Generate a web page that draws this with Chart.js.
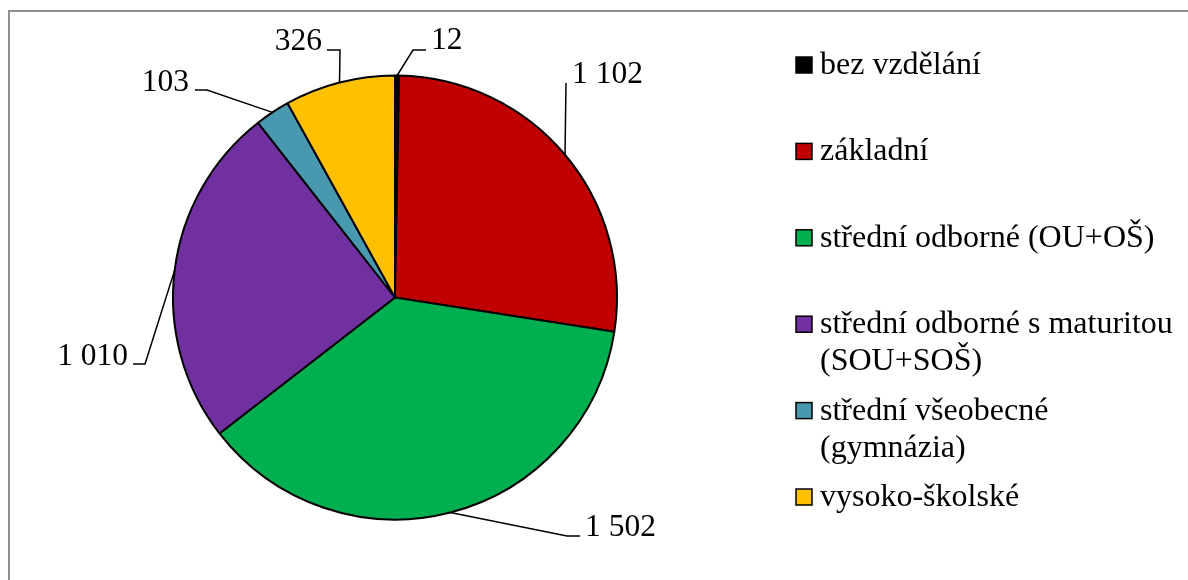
<!DOCTYPE html>
<html>
<head>
<meta charset="utf-8">
<script src="https://cdn.jsdelivr.net/npm/chart.js@4/dist/chart.umd.min.js"></script>
<style>
  body { margin: 0; background: #fff; }
  #wrap { position: relative; width: 1188px; height: 580px; overflow: hidden; }
  #frame { position: absolute; left: 8px; top: 10px; width: 1300px; height: 700px;
           border-left: 2px solid #8f8f8f; border-top: 2px solid #8f8f8f; }
  canvas { position: absolute; left: 0; top: 0; }
</style>
</head>
<body>
<div id="wrap">
  <div id="frame"></div>
  <canvas id="myChart" width="1188" height="580"></canvas>
</div>
<script>
const categories = [
  "bez vzdělání",
  "základní",
  "střední odborné (OU+OŠ)",
  "střední odborné s maturitou\n(SOU+SOŠ)",
  "střední všeobecné\n(gymnázia)",
  "vysoko-školské",
];
const values = [12, 1102, 1502, 1010, 103, 326];
const colors = ["#000000", "#c00000", "#00b050", "#7030a0", "#4899b0", "#ffc000"];

const FONT = '"Liberation Serif", "Times New Roman", serif';

// where each value label sits: elbow of leader line, end of short horizontal, text
const labelPos = [
  { elbow: [413, 50], end: [426, 50], tx: 431, ty: 49, align: "left" },
  { elbow: [566, 83], end: null, tx: 572, ty: 83, align: "left" },
  { elbow: [567, 536], end: [580, 536], tx: 585, ty: 536, align: "left" },
  { elbow: [145, 364], end: [133, 364], tx: 128, ty: 365, align: "right" },
  { elbow: [207, 90], end: [195, 90], tx: 189, ty: 91, align: "right" },
  { elbow: [340, 50], end: [327, 50], tx: 322, ty: 50, align: "right" },
];

function fmt(v) {
  return String(v).replace(/\B(?=(\d{3})+(?!\d))/g, " ");
}

const valueLabels = {
  id: "valueLabels",
  afterDatasetsDraw(chart) {
    const ctx = chart.ctx;
    const arcs = chart.getDatasetMeta(0).data;
    ctx.save();
    ctx.font = "31.5px " + FONT;
    ctx.fillStyle = "#000";
    ctx.strokeStyle = "#000";
    ctx.lineWidth = 1.5;
    ctx.textBaseline = "alphabetic";
    arcs.forEach((arc, i) => {
      const p = arc.getProps(["x", "y", "startAngle", "endAngle", "outerRadius"], true);
      const mid = (p.startAngle + p.endAngle) / 2;
      const ax = p.x + Math.cos(mid) * p.outerRadius;
      const ay = p.y + Math.sin(mid) * p.outerRadius;
      const lp = labelPos[i];
      ctx.beginPath();
      ctx.moveTo(ax, ay);
      ctx.lineTo(lp.elbow[0], lp.elbow[1]);
      if (lp.end) ctx.lineTo(lp.end[0], lp.end[1]);
      ctx.stroke();
      ctx.textAlign = lp.align;
      ctx.fillText(fmt(values[i]), lp.tx, lp.ty);
    });
    ctx.restore();
  },
};

const sideLegend = {
  id: "sideLegend",
  afterDraw(chart) {
    const ctx = chart.ctx;
    ctx.save();
    ctx.font = "32px " + FONT;
    ctx.textAlign = "left";
    ctx.textBaseline = "alphabetic";
    categories.forEach((c, i) => {
      const cy = 65 + i * 86.4;
      ctx.fillStyle = colors[i];
      ctx.fillRect(796, cy - 8, 16, 16);
      ctx.strokeStyle = "#000";
      ctx.lineWidth = 1.5;
      ctx.strokeRect(796, cy - 8, 16, 16);
      ctx.fillStyle = "#000";
      c.split("\n").forEach((line, k) => {
        ctx.fillText(line, 820, cy + 9 + k * 37);
      });
    });
    ctx.restore();
  },
};

const ctx = document.getElementById("myChart");
const myChart = new Chart(ctx, {
  type: "pie",
  data: {
    labels: categories,
    datasets: [
      {
        data: values,
        backgroundColor: colors,
        borderColor: "#000",
        borderWidth: 2,
      },
    ],
  },
  options: {
    responsive: false,
    animation: false,
    radius: 222,
    layout: { padding: { left: 0, right: 398, top: 15, bottom: 0 } },
    plugins: {
      legend: { display: false },
      tooltip: { enabled: false },
    },
  },
  plugins: [valueLabels, sideLegend],
});
</script>
</body>
</html>
